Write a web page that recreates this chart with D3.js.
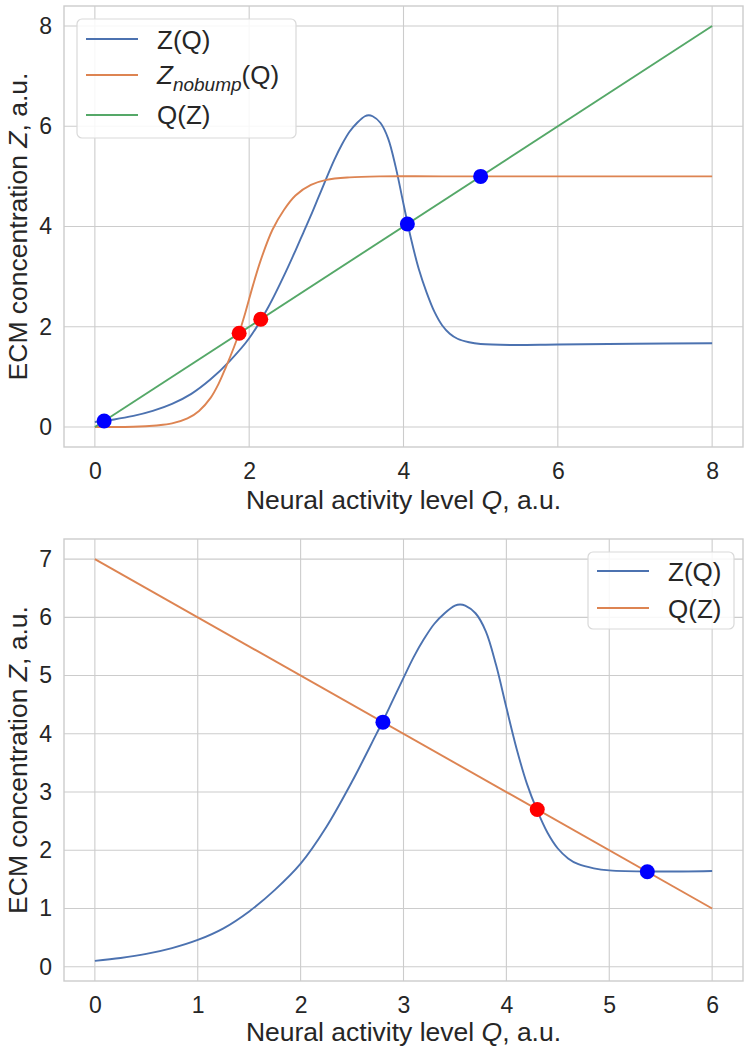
<!DOCTYPE html>
<html><head><meta charset="utf-8">
<script src="https://cdn.jsdelivr.net/npm/d3@7"></script>
<style>body{margin:0;background:#fff}svg{display:block;font-family:"Liberation Sans",Arial,sans-serif}</style>
</head><body><svg id="c" width="750" height="1054"></svg>
<script>
// Z(Q): ECM concentration as function of neural activity
const zQ_Q = [0,0.25,0.5,0.75,1.0,1.25,1.5,1.75,2.0,2.25,2.5,2.6,2.7,2.8,2.9,3.0,3.1,3.2,3.3,3.4,3.5,3.55,3.6,3.7,3.8,3.9,4.0,4.1,4.2,4.3,4.4,4.5,4.6,4.7,4.85,5.0,5.4,6.0,7.0,8.0];
const zQ_Z = [0.10,0.15,0.22,0.32,0.46,0.66,0.95,1.32,1.77,2.40,3.18,3.52,3.87,4.22,4.59,4.96,5.32,5.63,5.89,6.07,6.20,6.22,6.20,6.07,5.76,5.18,4.45,3.74,3.14,2.68,2.30,2.03,1.86,1.76,1.69,1.655,1.635,1.645,1.66,1.67];
// Z_nobump(Q)
const nb_Q = [0,0.5,0.8,1.0,1.2,1.35,1.5,1.6,1.7,1.8,1.87,1.95,2.05,2.15,2.3,2.45,2.6,2.8,3.0,3.3,3.7,4.5,8];
const nb_Z = [0,0.003,0.03,0.07,0.17,0.32,0.58,0.85,1.2,1.58,1.88,2.28,2.83,3.33,3.93,4.33,4.62,4.83,4.93,4.98,5.0,5.0,5.0];
// Q(Z) lines
const top_line_Q = [0,8], top_line_Z = [0,8];
const bot_line_Q = [0,6], bot_line_Z = [7,1];
// fixed points
const top_pts_Q = [0.12,1.87,2.15,4.05,5.0], top_pts_Z = [0.12,1.87,2.15,4.05,5.0], top_pts_c = ["blue","red","red","blue","blue"];
const bot_pts_Q = [2.8,4.3,5.37], bot_pts_Z = [4.2,2.7,1.63], bot_pts_c = ["blue","red","blue"];
// ticks
const top_xticks = [0,2,4,6,8], top_yticks = [0,2,4,6,8];
const bot_xticks = [0,1,2,3,4,5,6], bot_yticks = [0,1,2,3,4,5,6,7];

const C = {blue:"#4C72B0", orange:"#DD8452", green:"#55A868", grid:"#cccccc", text:"#262626"};
const svg = d3.select("#c");
const TFS = 23, LFS = 26.5, GFS = 26;

function zip(a,b){return a.map((v,i)=>[v,b[i]]);}

function panel(o){
  const g = svg.append("g");
  const x = d3.scaleLinear().domain(o.xd).range([o.l,o.r]);
  const y = d3.scaleLinear().domain(o.yd).range([o.b,o.t]);
  // grid
  g.append("g").selectAll("line").data(o.xt).join("line")
    .attr("x1",d=>x(d)).attr("x2",d=>x(d)).attr("y1",o.t).attr("y2",o.b)
    .attr("stroke",C.grid).attr("stroke-width",1.1);
  g.append("g").selectAll("line").data(o.yt).join("line")
    .attr("y1",d=>y(d)).attr("y2",d=>y(d)).attr("x1",o.l).attr("x2",o.r)
    .attr("stroke",C.grid).attr("stroke-width",1.1);
  // axes via d3 (labels only)
  const xa = g.append("g").attr("transform",`translate(0,${o.b})`)
    .call(d3.axisBottom(x).tickValues(o.xt).tickSize(0).tickPadding(0).tickFormat(d3.format("d")));
  const ya = g.append("g").attr("transform",`translate(${o.l},0)`)
    .call(d3.axisLeft(y).tickValues(o.yt).tickSize(0).tickPadding(12).tickFormat(d3.format("d")));
  [xa,ya].forEach(a=>{a.select(".domain").remove();
    a.selectAll("text").attr("font-size",TFS).attr("fill",C.text).attr("font-family","Liberation Sans, Arial, sans-serif");});
  xa.selectAll("text").attr("y",32).attr("dy",0);
  // frame
  g.append("rect").attr("x",o.l).attr("y",o.t).attr("width",o.r-o.l).attr("height",o.b-o.t)
    .attr("fill","none").attr("stroke",C.grid).attr("stroke-width",1.4);
  // curves
  const line = d3.line().x(d=>x(d[0])).y(d=>y(d[1])).curve(d3.curveCatmullRom.alpha(0.5));
  o.series.forEach(s=>{
    g.append("path").datum(s.data).attr("d",line).attr("fill","none")
      .attr("stroke",s.color).attr("stroke-width",1.9);
  });
  // points
  g.append("g").selectAll("circle").data(o.pts).join("circle")
    .attr("cx",d=>x(d[0])).attr("cy",d=>y(d[1])).attr("r",7.5).attr("fill",d=>d[2]);
  // labels
  const xl = g.append("text").attr("x",(o.l+o.r)/2).attr("y",o.xly).attr("text-anchor","middle")
    .attr("font-size",LFS).attr("fill",C.text);
  xl.append("tspan").text("Neural activity level ");
  xl.append("tspan").attr("font-style","italic").text("Q");
  xl.append("tspan").text(", a.u.");
  const yl = g.append("text").attr("transform",`translate(${o.yly},${(o.t+o.b)/2}) rotate(-90)`)
    .attr("text-anchor","middle").attr("font-size",LFS).attr("fill",C.text);
  yl.append("tspan").text("ECM concentration ");
  yl.append("tspan").attr("font-style","italic").text("Z");
  yl.append("tspan").text(", a.u.");
  // legend
  const L = o.legend;
  const lg = g.append("g");
  lg.append("rect").attr("x",L.x).attr("y",L.y).attr("width",L.w).attr("height",L.h)
    .attr("rx",5).attr("fill","rgba(255,255,255,0.85)").attr("stroke","#d9d9d9").attr("stroke-width",1.2);
  L.items.forEach((it,i)=>{
    const yy = L.lines[i];
    lg.append("line").attr("x1",L.x+9).attr("x2",L.x+61).attr("y1",yy).attr("y2",yy)
      .attr("stroke",it.color).attr("stroke-width",1.9);
    const t = lg.append("text").attr("x",L.x+80).attr("y",L.base[i])
      .attr("font-size",GFS).attr("fill",C.text);
    it.label(t);
  });
}

const simple = s => t => t.text(s);

panel({xd:[-0.4,8.4], yd:[-0.4,8.4], l:64, r:743, t:6, b:447, xt:top_xticks, yt:top_yticks,
  xly:509, yly:27,
  series:[{data:zip(zQ_Q,zQ_Z),color:C.blue},{data:zip(nb_Q,nb_Z),color:C.orange},{data:zip(top_line_Q,top_line_Z),color:C.green}],
  pts: top_pts_Q.map((q,i)=>[q,top_pts_Z[i],top_pts_c[i]==="blue"?"#0000ff":"#ff0000"]),
  legend:{x:77,y:19,w:219,h:119,lines:[39,75,115],base:[49,84,124],items:[
    {color:C.blue,label:simple("Z(Q)")},
    {color:C.orange,label:t=>{t.append("tspan").attr("font-style","italic").text("Z");
       t.append("tspan").attr("font-style","italic").attr("font-size",19).attr("dy",7).text("nobump");
       t.append("tspan").attr("dy",-7).text("(Q)");}},
    {color:C.green,label:simple("Q(Z)")}]}
});

panel({xd:[-0.3,6.3], yd:[-0.245,7.345], l:64, r:743, t:539, b:981, xt:bot_xticks, yt:bot_yticks,
  xly:1041, yly:27,
  series:[{data:zip(zQ_Q.filter(q=>q<=6),zQ_Z.filter((z,i)=>zQ_Q[i]<=6)),color:C.blue},{data:zip(bot_line_Q,bot_line_Z),color:C.orange}],
  pts: bot_pts_Q.map((q,i)=>[q,bot_pts_Z[i],bot_pts_c[i]==="blue"?"#0000ff":"#ff0000"]),
  legend:{x:588,y:552,w:146,h:77,lines:[571,608],base:[581,618],items:[
    {color:C.blue,label:simple("Z(Q)")},{color:C.orange,label:simple("Q(Z)")}]}
});
</script></body></html>
